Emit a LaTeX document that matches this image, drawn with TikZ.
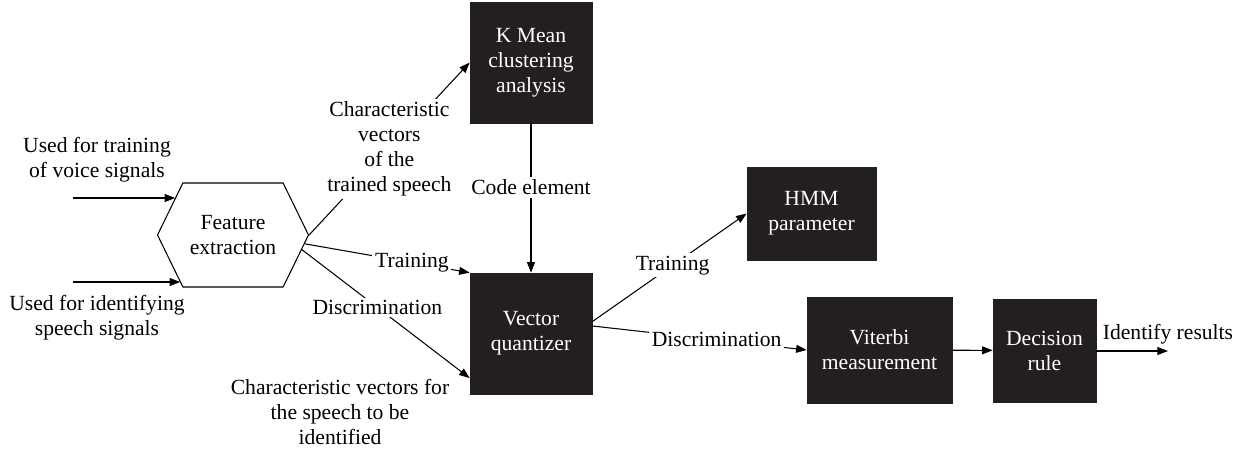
\documentclass[tikz,border=0pt]{standalone}
\usepackage{fontspec}
\setmainfont{Liberation Serif}
\usetikzlibrary{calc,arrows.meta,shapes.symbols}
\definecolor{boxblack}{HTML}{231F20}
\tikzset{
  block/.style={draw=boxblack, fill=boxblack, text=white, align=center, inner sep=2pt},
  hexa/.style={draw, line width=0.6pt, signal, signal to=east and west, signal pointer angle=128,
    minimum width=3.02cm, minimum height=2.08cm, align=center, inner sep=1pt},
  flow/.style={-{Triangle[length=6pt,width=4.5pt]}, line width=0.6pt},
  lbl/.style={fill=white, align=center, inner sep=1.5pt},
  note/.style={align=center}
}

\begin{document}
\begin{tikzpicture}[x=0.02cm, y=-0.02cm, font=\fontsize{12.3}{14.2}\selectfont]

  \useasboundingbox (0,0) rectangle (1249,453);

  % blocks
  \node[hexa] (feat) at (233,235) {Feature\\extraction};
  \node[block, minimum width=2.44cm, minimum height=2.42cm] (kmean) at (531,62.5) {K Mean\\clustering\\analysis};
  \node[block, minimum width=2.44cm, minimum height=2.42cm] (vq) at (531,333.5) {Vector\\quantizer};
  \node[block, minimum width=2.58cm, minimum height=1.86cm] (hmm) at (811.5,213.5) {HMM\\parameter};
  \node[block, minimum width=2.9cm, minimum height=2.12cm] (vit) at (879.5,350) {Viterbi\\measurement};
  \node[block, minimum width=2.06cm, minimum height=2.06cm] (dec) at (1044.5,350.5) {Decision\\rule};

  % inputs
  \coordinate (in1) at (73,198);
  \coordinate (in2) at (73,282);
  \node[note] (in1txt) at (97,160) {Used for training\\of voice signals};
  \node[note] (in2txt) at (97,318) {Used for identifying\\speech signals};
  \draw[flow] (in1) -- (in1 -| feat.147);
  \draw[flow] (in2) -- (in2 -| feat.-138);

  % training and discrimination paths
  \draw[flow] (feat.east) -- node[lbl] {Characteristic\\vectors\\of the\\trained speech} (kmean.west);
  \draw[flow] (feat.-7) -- node[lbl, pos=0.65] {Training} (vq.north west);
  \draw[flow] (feat.-12) -- node[lbl, pos=0.45] {Discrimination} (vq.-144);
  \draw[flow] (kmean) -- node[lbl, pos=0.43] {Code element} (vq);
  \draw[flow] (vq.11) -- node[lbl, pos=0.52] {Training} (hmm.west);
  \draw[flow] (vq.7) -- node[lbl, pos=0.58] {Discrimination} (vit.west);
  \draw[flow] (vit) -- (dec);

  % output
  \coordinate (out) at (1168,351);
  \draw[flow] (dec.east |- out) -- (out) node[above] {Identify results};

  \node[note] (vecnote) at (340,412) {Characteristic vectors for\\the speech to be\\identified};

\end{tikzpicture}
\end{document}
